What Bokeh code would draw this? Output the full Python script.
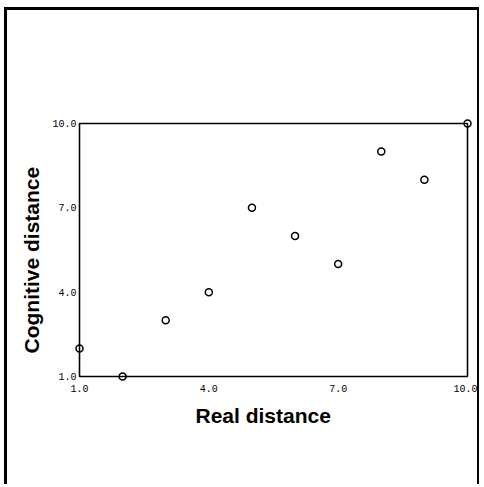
from bokeh.plotting import figure
from bokeh.models import FixedTicker, PrintfTickFormatter, Range1d, BoxAnnotation, Title
from bokeh.embed import file_html
from bokeh.resources import INLINE

real_distance = [1, 2, 3, 4, 5, 6, 7, 8, 9, 10]
cognitive_distance = [2, 1, 3, 4, 7, 6, 5, 9, 8, 10]
tick_values = [1, 4, 7, 10]
axis_min, axis_max = 1, 10
x_title = "Real distance"
y_title = "Cognitive distance"

# small padding so the markers on the box edges are not clipped
pad_x = 5 / 43.11
pad_y = 5 / 28.11

p = figure(width=475, height=477, output_backend="svg", toolbar_location=None,
           x_range=Range1d(axis_min - pad_x, axis_max + pad_x),
           y_range=Range1d(axis_min - pad_y, axis_max + pad_y),
           min_border_left=67, min_border_right=10, min_border_top=108, min_border_bottom=106)
p.styles = {"border-left": "3px solid black", "border-top": "3px solid black",
            "border-right": "2px solid black",
            "margin-left": "4px", "margin-top": "7px"}
p.grid.visible = False
p.outline_line_color = None

box = BoxAnnotation(left=axis_min, right=axis_max, bottom=axis_min, top=axis_max,
                    fill_alpha=0, line_color="black", line_alpha=1, line_width=1.6)
p.add_layout(box)

p.scatter(real_distance, cognitive_distance, marker="circle", size=7,
          fill_color="white", line_color="black", line_width=1.5)

for ax in (p.xaxis[0], p.yaxis[0]):
    ax.ticker = FixedTicker(ticks=tick_values)
    ax.formatter = PrintfTickFormatter(format="%.1f")
    ax.axis_line_color = None
    ax.major_tick_line_color = None
    ax.minor_tick_line_color = None
    ax.major_label_text_font = "Liberation Mono"
    ax.major_label_text_font_size = "10px"
    ax.major_label_text_color = "black"

p.xaxis.major_label_standoff = -3
p.yaxis.major_label_standoff = -8

xt = Title(text=x_title, align="left", offset=121, standoff=14,
           text_font="Liberation Sans", text_font_style="bold",
           text_font_size="21px", text_color="black")
yt = Title(text=y_title, align="left", offset=28, standoff=13,
           text_font="Liberation Sans", text_font_style="bold",
           text_font_size="21px", text_color="black")
p.add_layout(xt, "below")
p.add_layout(yt, "left")

open("out.html", "w").write(file_html(p, INLINE))
